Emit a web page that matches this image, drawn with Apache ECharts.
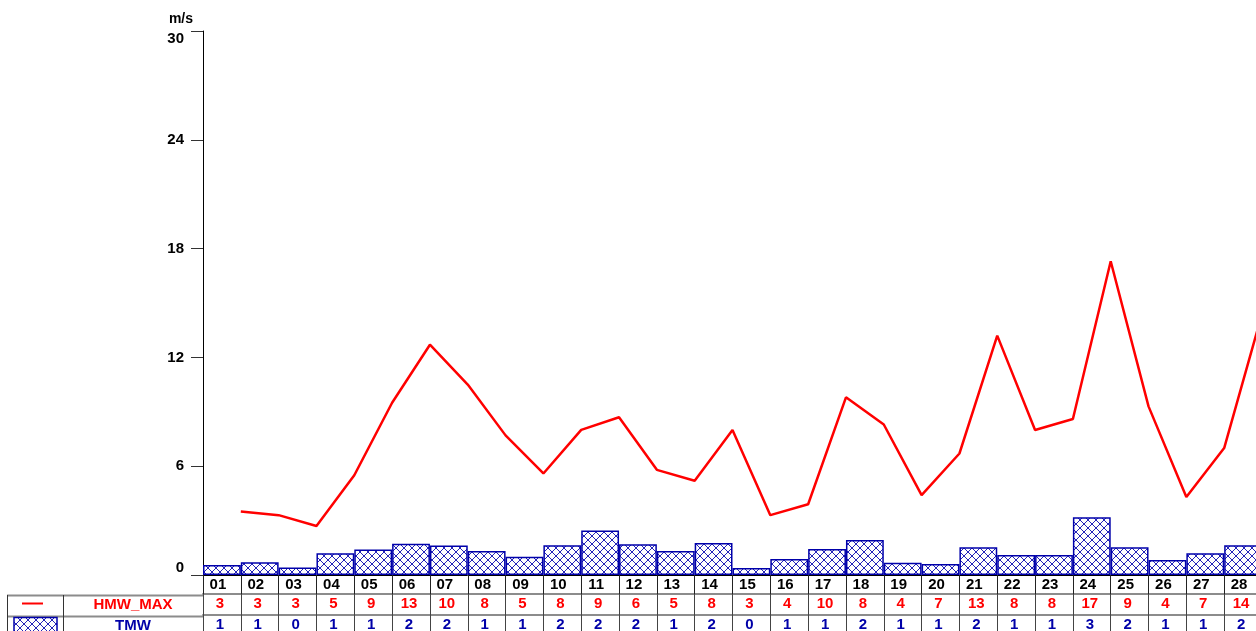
<!DOCTYPE html>
<html>
<head>
<meta charset="utf-8">
<script src="https://cdn.jsdelivr.net/npm/echarts@6/dist/echarts.min.js"></script>
<style>
  html, body { margin: 0; padding: 0; overflow: hidden; background: #fff; }
  /* the chart is a bit bigger than the window: the reference is cropped at right and bottom */
  #chart { width: 1300px; height: 640px; }
</style>
</head>
<body>
<div id="chart"></div>
<script>
// days of the month
const days = ['01', '02', '03', '04', '05', '06', '07', '08', '09', '10', '11', '12', '13', '14',
  '15', '16', '17', '18', '19', '20', '21', '22', '23', '24', '25', '26', '27', '28']
// HMW_MAX line (m/s), plotted at the end of each day
const hmwMax = [3.5, 3.3, 2.7, 5.5, 9.5, 12.7, 10.5, 7.7, 5.6, 8.0, 8.7, 5.8, 5.2, 8.0,
  3.3, 3.9, 9.8, 8.3, 4.4, 6.7, 13.2, 8.0, 8.6, 17.3, 9.3, 4.3, 7.0, 14.4]
// TMW bars (m/s)
const tmw = [0.55, 0.7, 0.42, 1.2, 1.4, 1.73, 1.62, 1.32, 1.0, 1.64, 2.45, 1.69, 1.32, 1.76,
  0.39, 0.88, 1.43, 1.93, 0.68, 0.61, 1.53, 1.1, 1.1, 3.18, 1.53, 0.83, 1.2, 1.64]
// rounded values shown in the data table
const hmwMaxRow = ['3', '3', '3', '5', '9', '13', '10', '8', '5', '8', '9', '6', '5', '8',
  '3', '4', '10', '8', '4', '7', '13', '8', '8', '17', '9', '4', '7', '14']
const tmwRow = ['1', '1', '0', '1', '1', '2', '2', '1', '1', '2', '2', '2', '1', '2',
  '0', '1', '1', '2', '1', '1', '2', '1', '1', '3', '2', '1', '1', '2']
// y axis ticks
const yTicks = [0, 6, 12, 18, 24, 30]

const fontFamily = '"Liberation Sans", Arial, sans-serif'
const red = '#ff0000'
const blue = '#0000a8'

// cross hatch used for the bars
function hatch() {
  const c = document.createElement('canvas')
  c.width = 8
  c.height = 8
  const g = c.getContext('2d')
  g.fillStyle = '#fff'
  g.fillRect(0, 0, 8, 8)
  g.strokeStyle = '#2424b8'
  g.lineWidth = 1
  g.beginPath()
  g.moveTo(-1, -1); g.lineTo(9, 9)
  g.moveTo(9, -1); g.lineTo(-1, 9)
  g.stroke()
  return c
}
const pattern = { image: hatch(), repeat: 'repeat' }

// one row of the table under the chart = one more category axis
function rowAxis(offset, tickLen, row, color) {
  return {
    type: 'category',
    data: days,
    position: 'bottom',
    offset: offset,
    boundaryGap: true,
    axisLine: { show: true, lineStyle: { color: '#8c8c8c', width: 2 } },
    axisTick: { show: true, length: tickLen, lineStyle: { color: '#444' } },
    axisLabel: {
      interval: 0, margin: 2, color: color, fontFamily: fontFamily,
      fontWeight: 'bold', fontSize: 15, padding: [0, 4, 0, 0],
      formatter: (v, i) => row[i]
    },
    splitLine: { show: false }
  }
}

const myChart = echarts.init(document.getElementById('chart'))
const option = {
  animation: false,
  backgroundColor: '#fff',
  grid: {
    left: 203,
    top: 31,
    right: 38,
    bottom: 65,
    containLabel: false,
    outerBoundsMode: 'none'
  },
  xAxis: [
    {
      type: 'category',
      data: days,
      position: 'bottom',
      boundaryGap: true,
      axisLine: { show: true, lineStyle: { color: '#000', width: 1 } },
      axisTick: { show: true, length: 19, lineStyle: { color: '#222' } },
      axisLabel: {
        interval: 0, margin: 2, color: '#000', fontFamily: fontFamily,
        fontWeight: 'bold', fontSize: 15, padding: [0, 8, 0, 0]
      },
      splitLine: { show: false }
    },
    rowAxis(19, 21, hmwMaxRow, red),
    rowAxis(40, 24, tmwRow, blue),
    // hidden axis for the line: point k sits at the end of day k
    { type: 'value', min: 0, max: days.length, show: false }
  ],
  yAxis: {
    type: 'value',
    min: yTicks[0],
    max: yTicks[yTicks.length - 1],
    interval: yTicks[1] - yTicks[0],
    name: 'm/s',
    nameLocation: 'end',
    nameGap: 5,
    nameTextStyle: {
      color: '#000', fontFamily: fontFamily, fontWeight: 'bold', fontSize: 14,
      align: 'right', verticalAlign: 'bottom', padding: [0, 10, 0, 0]
    },
    axisLine: { show: true, lineStyle: { color: '#000', width: 1 } },
    axisTick: { show: true, length: 12, lineStyle: { color: '#333' } },
    axisLabel: {
      margin: 19, color: '#000', fontFamily: fontFamily, fontWeight: 'bold', fontSize: 15,
      verticalAlignMinLabel: 'bottom', verticalAlignMaxLabel: 'top'
    },
    splitLine: { show: false }
  },
  series: [
    {
      name: 'TMW',
      type: 'bar',
      xAxisIndex: 0,
      data: tmw,
      barCategoryGap: '0%',
      itemStyle: { color: pattern, borderColor: '#0000aa', borderWidth: 1.5 },
      silent: true
    },
    {
      name: 'HMW_MAX',
      type: 'line',
      xAxisIndex: 3,
      data: hmwMax.map((v, i) => [i + 1, v]),
      showSymbol: false,
      lineStyle: { color: red, width: 2.5 },
      z: 3,
      silent: true
    }
  ],
  // left part of the table: legend symbol and series name
  graphic: [
    { type: 'line', shape: { x1: 7, y1: 595.5, x2: 203, y2: 595.5 }, style: { stroke: '#8c8c8c', lineWidth: 2 } },
    { type: 'line', shape: { x1: 7, y1: 616.5, x2: 203, y2: 616.5 }, style: { stroke: '#8c8c8c', lineWidth: 2 } },
    { type: 'line', shape: { x1: 7.5, y1: 595, x2: 7.5, y2: 640 }, style: { stroke: '#333', lineWidth: 1 } },
    { type: 'line', shape: { x1: 63.5, y1: 595, x2: 63.5, y2: 640 }, style: { stroke: '#333', lineWidth: 1 } },
    { type: 'line', shape: { x1: 22, y1: 603.5, x2: 43, y2: 603.5 }, style: { stroke: red, lineWidth: 2 } },
    {
      type: 'text', x: 133, y: 605,
      style: { text: 'HMW_MAX', fill: red, fontFamily: fontFamily, fontWeight: 'bold', fontSize: 15, align: 'center', verticalAlign: 'middle' }
    },
    { type: 'rect', shape: { x: 14, y: 617.5, width: 43, height: 20 }, style: { fill: pattern, stroke: '#0000aa', lineWidth: 1.5 } },
    {
      type: 'text', x: 133, y: 626,
      style: { text: 'TMW', fill: blue, fontFamily: fontFamily, fontWeight: 'bold', fontSize: 15, align: 'center', verticalAlign: 'middle' }
    }
  ]
}
myChart.setOption(option)
</script>
</body>
</html>
